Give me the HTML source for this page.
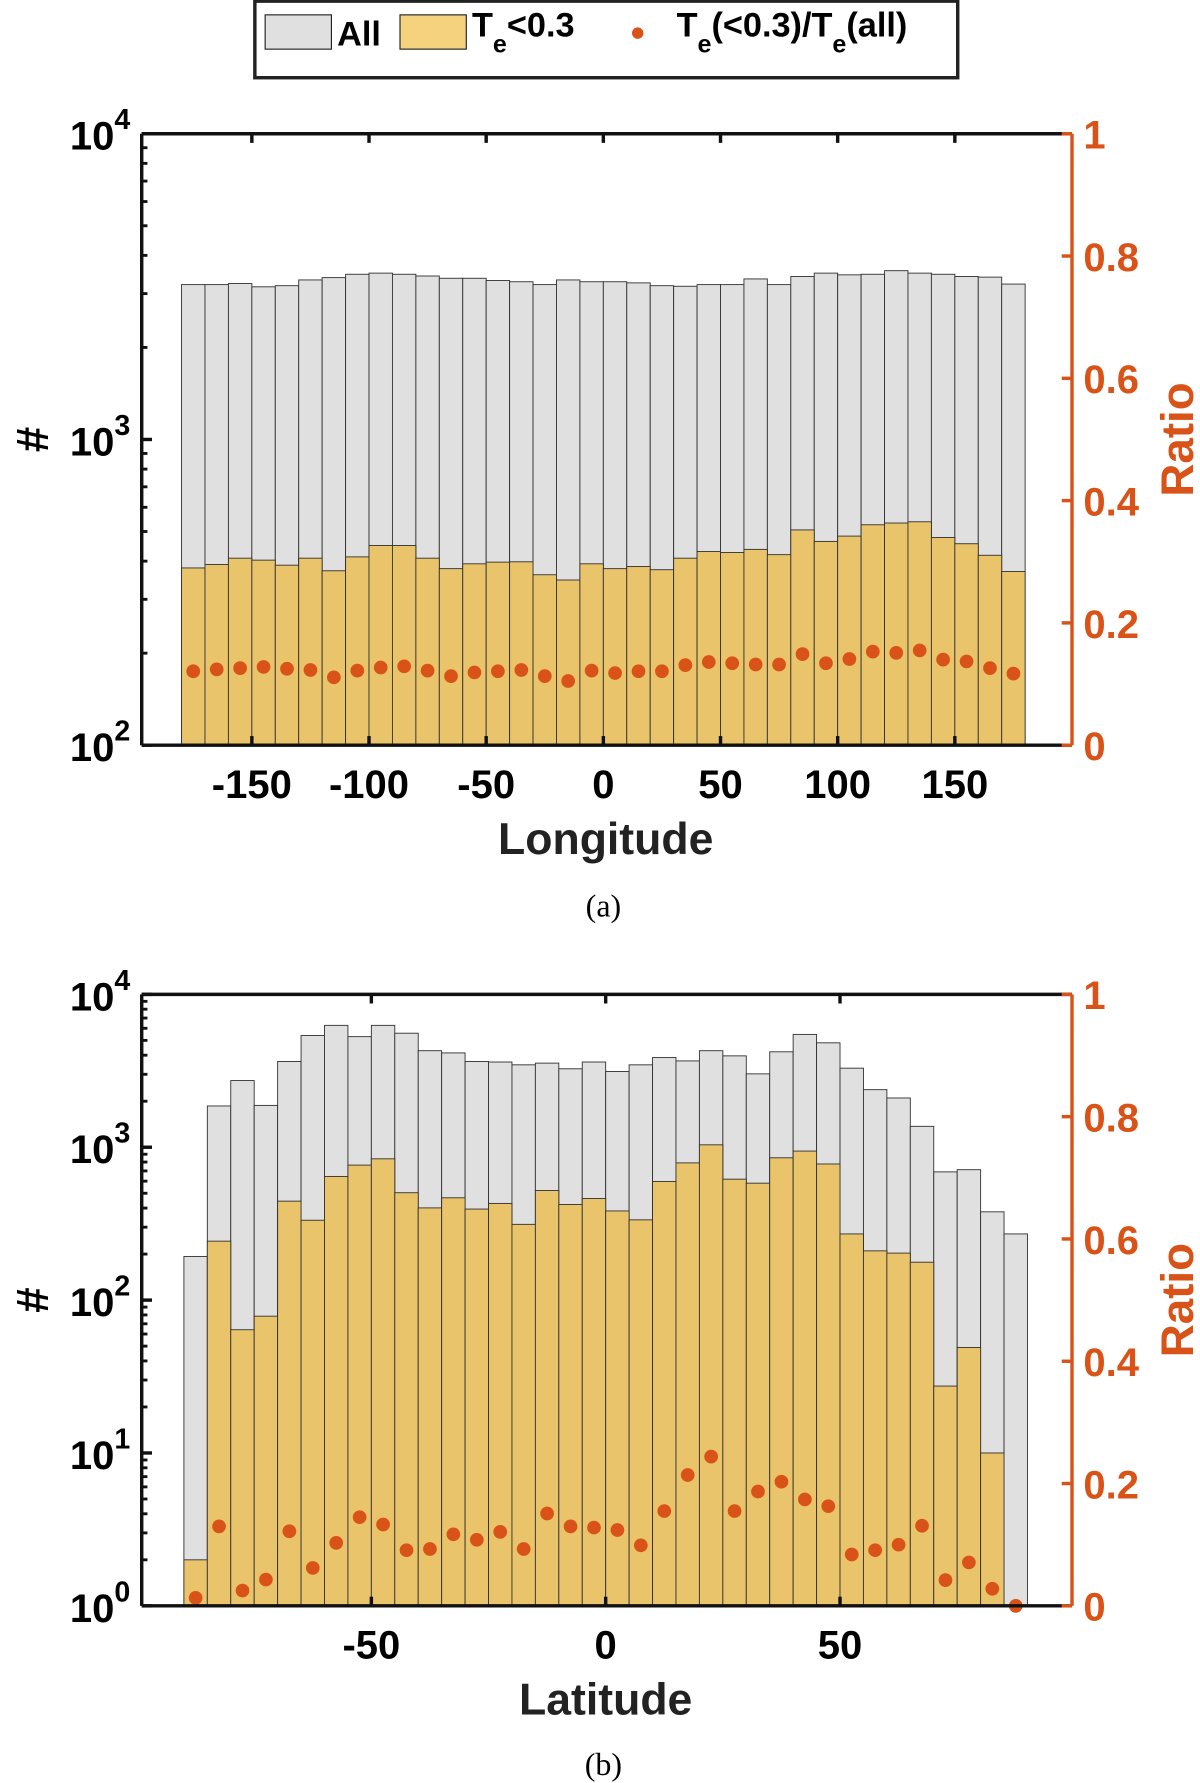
<!DOCTYPE html>
<html><head><meta charset="utf-8"><style>
html,body{margin:0;padding:0;background:#fff;}
svg{display:block;}
text{font-family:"Liberation Sans Narrow","Liberation Sans",sans-serif;font-weight:bold;}
.serif{font-family:"Liberation Serif",serif;font-weight:normal;}
</style></head><body>
<svg id="fig" width="1200" height="1783" viewBox="0 0 1050 1560" preserveAspectRatio="none" xmlns="http://www.w3.org/2000/svg">
<g id="legend">
<rect x="223" y="1" width="615" height="67" fill="#fff" stroke="#222" stroke-width="3"/>
<g>
<rect x="232" y="13" width="58" height="30" fill="#e0e0e0" stroke="#222" stroke-width="1"/>
<text x="295" y="40" font-size="30">All</text></g>
<g>
<rect x="350" y="13" width="58" height="30" fill="#f5d27e" stroke="#222" stroke-width="1"/>
<text x="413" y="32" font-size="30">T<tspan font-size="22" dy="14">e</tspan><tspan dy="-14">&lt;0.3</tspan></text></g>
<g>
<circle cx="558" cy="29" r="5" fill="#d95319"/>
<text x="592" y="32" font-size="30">T<tspan font-size="22" dy="14">e</tspan><tspan dy="-14">(&lt;0.3)/T</tspan><tspan font-size="22" dy="14">e</tspan><tspan dy="-14">(all)</tspan></text></g>
</g>
<g id="pa"></g>
<g id="pb"></g>
<text class="serif" x="528" y="802" font-size="28" text-anchor="middle">(a)</text>
<text class="serif" x="528" y="1553" font-size="28" text-anchor="middle">(b)</text>
</svg>
<script>
const lonAll=[3210,3210,3236,3157,3184,3325,3384,3470,3500,3470,3425,3367,3367,3310,3280,3210,3325,3280,3280,3252,3184,3170,3210,3210,3350,3210,3412,3500,3455,3470,3565,3500,3470,3412,3396,3223];
const lonTe=[380,390,409,403,388,409,372,413,450,450,409,378,392,397,398,361,347,392,378,384,375,409,430,427,437,420,506,464,483,526,533,538,478,456,418,370];
const lonRatio=[.121,.124,.126,.128,.125,.123,.111,.122,.127,.129,.122,.113,.119,.121,.123,.113,.105,.122,.118,.121,.121,.131,.136,.134,.132,.132,.149,.134,.141,.153,.151,.155,.140,.137,.126,.117];
const latAll=[193,1862,2730,1878,3640,5380,6270,5290,6270,5570,4280,4140,3640,3610,3460,3550,3260,3610,3130,3460,3860,3670,4280,3960,3020,4210,5470,4820,3290,2380,2100,1370,690,713,378,271];
const latTe=[2,243,64,78.5,444,333,644,764,840,504,401,467,394,429,313,521,422,462,383,335,597,790,1037,618,582,853,944,777,271,210,203,177,27.4,49,10,0];
const latRatio=[.013,.130,.025,.043,.122,.062,.103,.145,.133,.091,.093,.117,.108,.121,.093,.151,.130,.128,.124,.099,.155,.214,.244,.155,.187,.203,.174,.163,.084,.091,.100,.131,.042,.071,.028,0];
const lonTicks=[-150,-100,-50,0,50,100,150];
const latTicks=[-50,0,50];
const ratioTicks=["0","0.2","0.4","0.6","0.8","1"];
const NS="http://www.w3.org/2000/svg";
function mk(p,t,a,txt){const e=document.createElementNS(NS,t);for(const k in a)e.setAttribute(k,a[k]);if(txt!==undefined)e.textContent=txt;p.appendChild(e);return e;}
function panel(g,cfg){
 const L=124,R=938,T=cfg.top,B=cfg.top+535;
 const x=v=>L+(v-cfg.xmin)/(cfg.xmax-cfg.xmin)*(R-L);
 const y=v=>B-(Math.log10(Math.max(v,1e-9))-cfg.lmin)/(cfg.lmax-cfg.lmin)*(B-T);
 const yr=v=>B-v*(B-T);
 const n=cfg.all.length;
 for(let i=0;i<n;i++){const x0=x(cfg.x0+i*cfg.w),x1=x(cfg.x0+(i+1)*cfg.w);
  const yt=Math.max(y(cfg.all[i]),T);
  const r=mk(g,'rect',{x:x0,y:yt,width:x1-x0,height:B-yt,fill:'#e0e0e0',stroke:'#333','stroke-width':0.8});
  
  }
 for(let i=0;i<n;i++){if(cfg.te[i]<=Math.pow(10,cfg.lmin))continue;const x0=x(cfg.x0+i*cfg.w),x1=x(cfg.x0+(i+1)*cfg.w);
  const yt=y(cfg.te[i]);
  const r=mk(g,'rect',{x:x0,y:yt,width:x1-x0,height:B-yt,fill:'#e9c46b',stroke:'#333','stroke-width':0.8});
  
  }
 for(let i=0;i<n;i++){const c=mk(g,'circle',{cx:x(cfg.x0+(i+0.5)*cfg.w),cy:yr(cfg.ratio[i]),r:6,fill:'#d95319'});
  
  }
 mk(g,'line',{x1:L,y1:T,x2:R,y2:T,stroke:'#111','stroke-width':3});
 mk(g,'line',{x1:L,y1:B,x2:R,y2:B,stroke:'#111','stroke-width':3});
 mk(g,'line',{x1:L,y1:T,x2:L,y2:B,stroke:'#111','stroke-width':3});
 mk(g,'line',{x1:R,y1:T,x2:R,y2:B,stroke:'#d95319','stroke-width':3});
 for(const t of cfg.ticks){const xx=x(t);
  mk(g,'line',{x1:xx,y1:B,x2:xx,y2:B-8,stroke:'#111','stroke-width':3});
  mk(g,'line',{x1:xx,y1:T,x2:xx,y2:T+8,stroke:'#111','stroke-width':3});
  const tl=mk(g,'text',{x:xx,y:B+46,'font-size':35,'text-anchor':'middle'},String(t));
  
  }
 for(let d=cfg.lmin;d<=cfg.lmax;d++){const yy=y(Math.pow(10,d));
  mk(g,'line',{x1:L,y1:yy,x2:L+9,y2:yy,stroke:'#111','stroke-width':3});
  const tl=mk(g,'text',{x:L-10,y:yy+14,'font-size':35,'text-anchor':'end'});
  mk(tl,'tspan',{},'10');mk(tl,'tspan',{'font-size':25,dy:-18},String(d));
  
  
  if(d<cfg.lmax)for(let m=2;m<10;m++){const ym=y(m*Math.pow(10,d));mk(g,'line',{x1:L,y1:ym,x2:L+5,y2:ym,stroke:'#111','stroke-width':2.5});}}
 ratioTicks.forEach((s,i)=>{const yy=yr(i*0.2);
  mk(g,'line',{x1:R,y1:yy,x2:R-9,y2:yy,stroke:'#d95319','stroke-width':3});
  const tl=mk(g,'text',{x:R+10,y:yy+13,'font-size':35,fill:'#d95319'},s);
  
  });
 const xl=mk(g,'text',{x:530,y:B+95,'font-size':39,'text-anchor':'middle',fill:'#222'},cfg.xlabel);
 
 
 const cy=(T+B)/2;
 const yl=mk(g,'text',{x:0,y:0,'font-size':40,'text-anchor':'middle',transform:`translate(42,${cy}) rotate(-90)`},'#');
 
 
 const rl=mk(g,'text',{x:0,y:0,'font-size':40,'text-anchor':'middle',fill:'#d95319',transform:`translate(1044,${cy}) rotate(-90)`},'Ratio');
 
 
}
panel(document.getElementById('pa'),{top:117,xmin:-197,xmax:200,x0:-180,w:10,lmin:2,lmax:4,all:lonAll,te:lonTe,ratio:lonRatio,ticks:lonTicks,xlabel:'Longitude'});
panel(document.getElementById('pb'),{top:870,xmin:-99,xmax:99.5,x0:-90,w:5,lmin:0,lmax:4,all:latAll,te:latTe,ratio:latRatio,ticks:latTicks,xlabel:'Latitude'});
</script>
</body></html>
